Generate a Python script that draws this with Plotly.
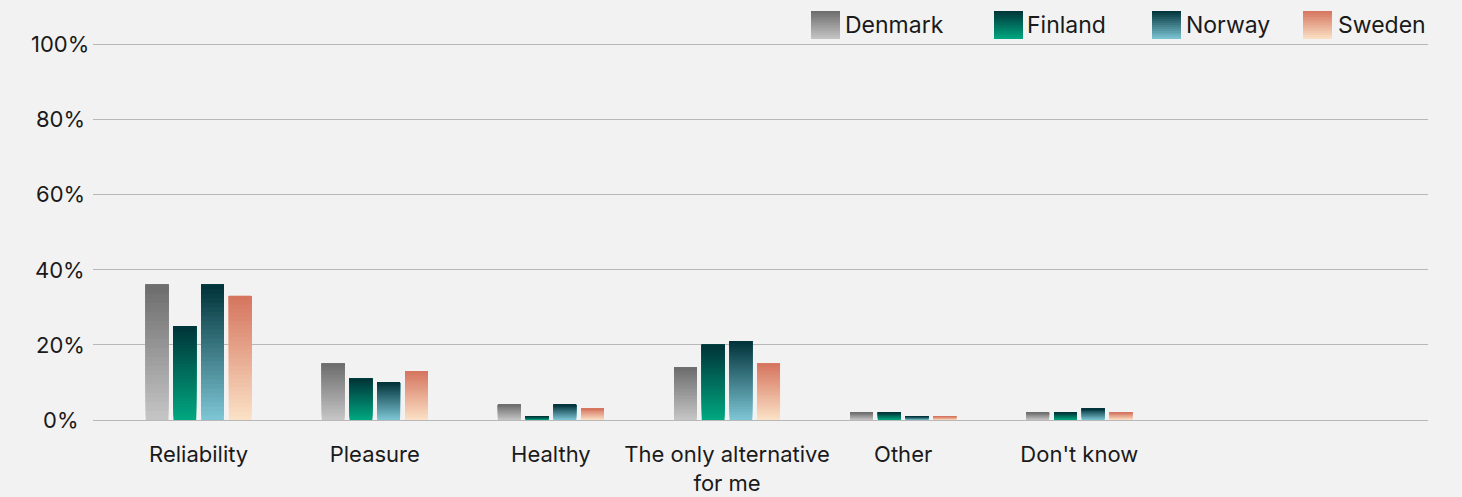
import plotly.graph_objects as go

# values (%)
categories = ['Reliability', 'Pleasure', 'Healthy', 'The only alternative<br>for me', 'Other', "Don't know"]
countries = ['Denmark', 'Finland', 'Norway', 'Sweden']
denmark = [36, 15, 4, 14, 2, 2]
finland = [25, 11, 1, 20, 2, 2]
norway = [36, 10, 4, 21, 1, 3]
sweden = [33, 13, 3, 15, 1, 2]
series = [denmark, finland, norway, sweden]
y_ticks = [0, 20, 40, 60, 80, 100]
y_labels = ['0%', '20%', '40%', '60%', '80%', '100%']

# gradient colours (top, bottom) per country
grads = [
    ((0x6c, 0x6c, 0x6c), (0xc6, 0xc6, 0xc6)),
    ((0x00, 0x33, 0x38), (0x00, 0xa8, 0x80)),
    ((0x00, 0x32, 0x38), (0x7e, 0xc6, 0xd6)),
    ((0xd5, 0x74, 0x5e), (0xfb, 0xe2, 0xc6)),
]

N = 30  # slices used to fake the vertical gradient


def mix(top, bot, t):
    # t = 0 at bottom, 1 at top
    return 'rgb(%d,%d,%d)' % tuple(round(b + (a - b) * t) for a, b in zip(top, bot))


fig = go.Figure()
for k, (name, vals) in enumerate(zip(countries, series)):
    top, bot = grads[k]
    for i in range(N):
        # each slice runs up to the top of the bar, the next one covers it -> no seams
        fig.add_trace(go.Bar(
            x=categories,
            y=[v * (N - i) / N for v in vals],
            base=[v * i / N for v in vals],
            offsetgroup=str(k),
            marker=dict(color=mix(top, bot, (i + 0.5) / N), line=dict(width=0)),
            showlegend=False,
            hoverinfo='skip',
        ))

W, H = 1462, 497
L, R, T, B = 93, 34, 43, 77
pw, ph = W - L - R, H - T - B

shapes = []
annotations = []

# y tick labels, centred like the original
for v, lab in zip(y_ticks, y_labels):
    annotations.append(dict(
        x=(60 - L) / pw, y=v, xref='paper', yref='y', xanchor='center', yanchor='middle',
        text=lab, showarrow=False, font=dict(size=22, color='#1a1a1a'),
    ))

# manual legend with gradient squares
sq_x = [811, 994, 1152, 1303]
txt_x = [846, 1028, 1187, 1339]
for k, name in enumerate(countries):
    top, bot = grads[k]
    x0 = (sq_x[k] - L) / pw
    x1 = (sq_x[k] + 29 - L) / pw
    steps = 14
    for j in range(steps):
        py0 = 39 - 28 * j / steps
        py1 = 11
        shapes.append(dict(
            type='rect', xref='paper', yref='paper',
            x0=x0, x1=x1,
            y0=(H - B - py0) / ph, y1=(H - B - py1) / ph,
            fillcolor=mix(top, bot, (j + 0.5) / steps), line=dict(width=0), layer='above',
        ))
    annotations.append(dict(
        x=(txt_x[k] - 3 - L) / pw, y=(H - B - 25) / ph,
        xref='paper', yref='paper', xanchor='left', yanchor='middle',
        text=name, showarrow=False, font=dict(size=23, color='#1a1a1a'),
    ))

fig.update_layout(
    width=W, height=H,
    barmode='group',
    bargap=0.37,
    bargroupgap=0.18,
    paper_bgcolor='#f2f2f2',
    plot_bgcolor='#f2f2f2',
    font=dict(family='Inter, Liberation Sans, sans-serif', size=22, color='#1a1a1a'),
    margin=dict(l=L, r=R, t=T, b=B, autoexpand=False),
    shapes=shapes,
    annotations=annotations,
    showlegend=False,
    xaxis=dict(range=[-0.6, 6.98], showgrid=False, showline=False, ticks='',
               ticklabelstandoff=19, tickangle=0, automargin=False),
    yaxis=dict(range=[0, 100.3], tickvals=y_ticks, showticklabels=False,
               gridcolor='#b8b8b8', gridwidth=1, automargin=False,
               zeroline=True, zerolinecolor='#b8b8b8', zerolinewidth=1,
               showline=False, ticks=''),
)

fig.write_html("out.html", config={'displayModeBar': False},
               post_script="document.body.style.margin='0';")
